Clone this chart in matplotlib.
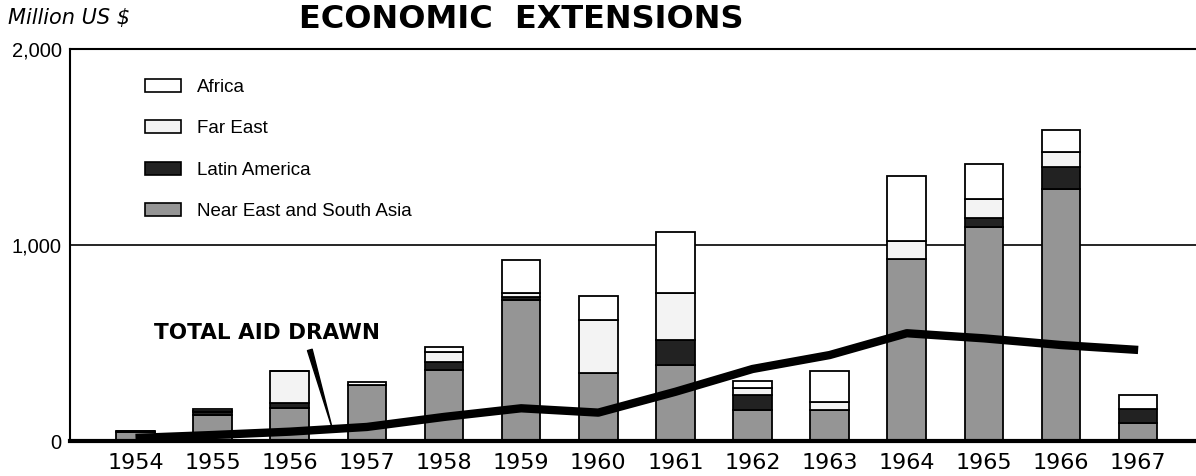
import numpy as np
import matplotlib
matplotlib.use('Agg')
import matplotlib.pyplot as plt
from matplotlib.patches import Patch

# values in million US $
years = ['1954', '1955', '1956', '1957', '1958', '1959', '1960',
         '1961', '1962', '1963', '1964', '1965', '1966', '1967']
near_east = [48, 135, 170, 285, 364, 720, 350, 389, 160, 160, 927, 1093, 1283, 93]
latin_america = [0, 15, 25, 0, 42, 14, 0, 128, 77, 0, 0, 43, 116, 71]
far_east = [5, 5, 165, 5, 51, 20, 268, 240, 34, 43, 93, 98, 73, 0]
africa = [0, 10, 0, 14, 22, 170, 124, 308, 37, 157, 333, 178, 113, 74]
total_aid_drawn = [18, 33, 50, 74, 125, 169, 147, 253, 369, 440, 551, 525, 491, 466]

series = [
    ('Near East and South Asia', near_east, '#959595'),
    ('Latin America', latin_america, '#222222'),
    ('Far East', far_east, '#f3f3f3'),
    ('Africa', africa, 'white'),
]

fig = plt.figure(figsize=(11.96, 4.76), dpi=100)
ax = fig.add_axes([0.0585, 0.0725, 0.9415, 0.8255])

x = np.arange(len(years))
bottom = np.zeros(len(years))
for label, vals, color in series:
    vals = np.array(vals, dtype=float)
    ax.bar(x, vals, width=0.5, bottom=bottom, color=color,
           edgecolor='black', linewidth=1.3, zorder=2)
    bottom += vals

# total aid drawn line
ax.plot(x, total_aid_drawn, color='black', linewidth=6,
        solid_capstyle='butt', zorder=4)

ax.text(1.70, 552, 'TOTAL AID DRAWN', ha='center', va='center',
        fontsize=15.5, fontweight='bold', zorder=5)
# pointer from the label down to the line
ax.annotate('', xy=(2.55, 68), xytext=(2.26, 466),
            arrowprops=dict(arrowstyle='wedge,tail_width=0.35,shrink_factor=0.5',
                            color='black', shrinkA=0, shrinkB=0),
            zorder=5)

ax.set_xlim(-0.85, 13.75)
ax.set_ylim(0, 2000)
ax.axhline(1000, color='black', linewidth=1.2, zorder=1)

ax.set_yticks([0, 1000, 2000])
ax.set_yticklabels(['0', '1,000', '2,000'], fontsize=14.5, family='Liberation Sans')
ax.set_xticks(x)
ax.set_xticklabels(years, fontsize=16)
ax.tick_params(axis='both', length=0)
ax.tick_params(axis='x', pad=8)
ax.tick_params(axis='y', pad=6)

ax.spines['right'].set_visible(False)
ax.spines['left'].set_linewidth(1.5)
ax.spines['top'].set_linewidth(1.5)
ax.spines['bottom'].set_linewidth(3)

handles = [Patch(facecolor=c, edgecolor='black', linewidth=1.2, label=l)
           for l, v, c in reversed(series)]
ax.legend(handles=handles, loc='upper left', bbox_to_anchor=(0.0585, 0.947),
          frameon=False, handlelength=1.92, handleheight=0.7,
          labelspacing=1.3, handletextpad=0.85, borderpad=0,
          prop={'family': 'Liberation Sans', 'size': 13.5})

fig.text(0.007, 0.963, 'Million US $', fontsize=15, style='italic',
         ha='left', va='center')
fig.text(0.4356, 0.960, 'ECONOMIC  EXTENSIONS', fontsize=23,
         fontweight='bold', ha='center', va='center')

plt.savefig('out.png', dpi=100)
plt.close()
